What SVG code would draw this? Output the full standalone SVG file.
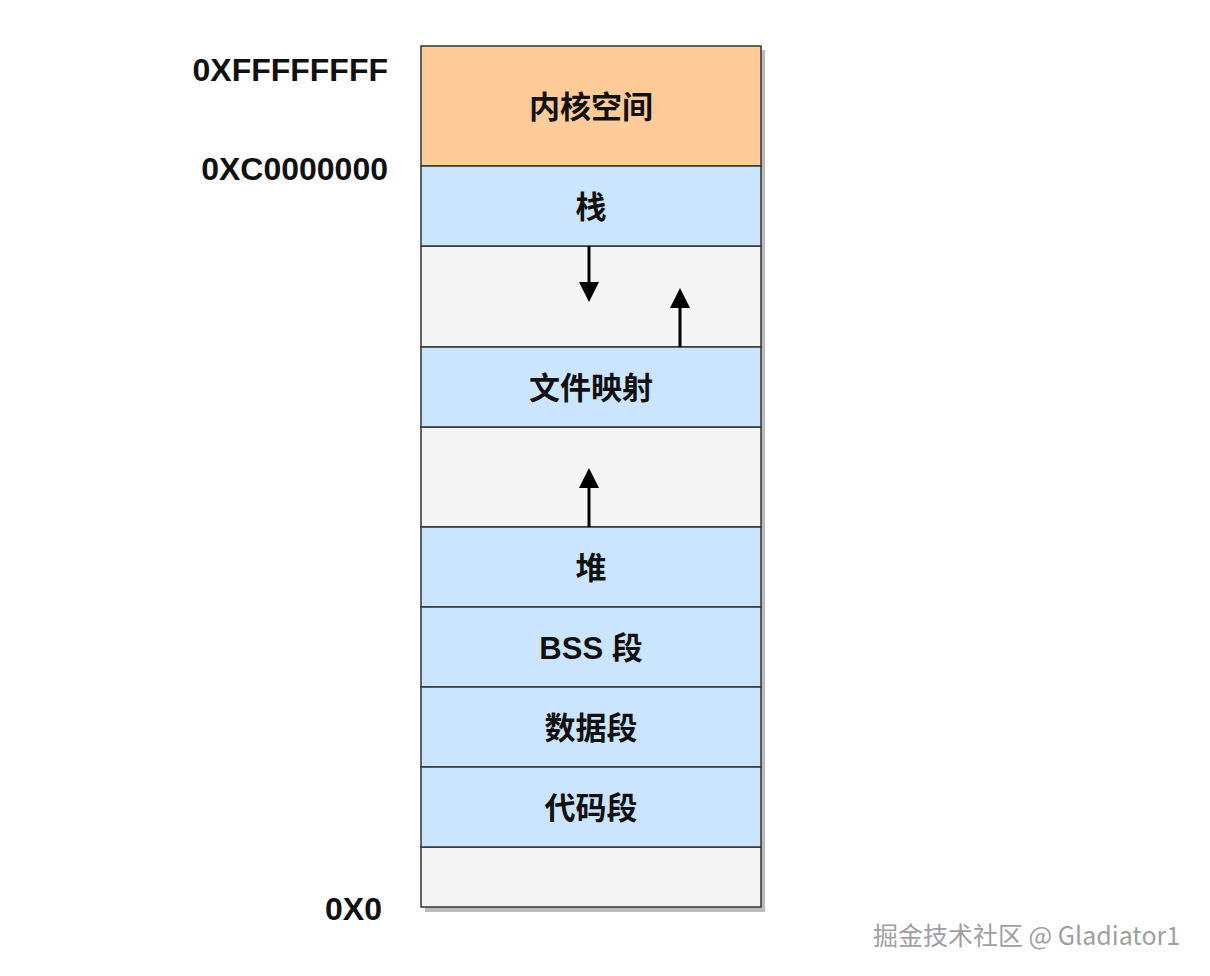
<svg xmlns="http://www.w3.org/2000/svg" width="1210" height="976" viewBox="0 0 1210 976">
<defs>
<style>
.b{stroke:#333;stroke-width:1.5}
.sh{fill:#bbb}
.blue{fill:#cce5ff}
.gray{fill:#f5f5f5}
.t{font-family:"Liberation Sans","Noto Sans CJK SC",sans-serif;font-weight:bold;font-size:31px;fill:#111;text-anchor:middle}
.a{font-family:"Liberation Sans",sans-serif;font-weight:bold;font-size:32px;fill:#111;text-anchor:end}
.w{font-family:"Noto Sans CJK SC",sans-serif;font-size:25px;fill:#888;opacity:0.8}
.c{stroke:#000;stroke-width:3;fill:none}
</style>
<marker id="ah" viewBox="0 0 10 10" refX="2" refY="5" markerWidth="22" markerHeight="20" orient="auto" markerUnits="userSpaceOnUse"><path d="M0,0L10,5L0,10z" fill="#000"/></marker>
</defs>
<rect class="sh" x="425" y="50" width="340" height="862"/>
<g id="n-gray3"><rect class="gray b" x="421" y="847" width="340" height="60"/></g>
<g id="n-gray1"><rect class="gray b" x="421" y="246" width="340" height="101"/></g>
<g id="n-gray2"><rect class="gray b" x="421" y="427" width="340" height="100"/></g>
<g id="n-kernel"><rect class="b" fill="#ffcc99" x="421" y="46" width="340" height="120"/><text class="t" x="591" y="118">内核空间</text></g>
<g id="n-stack"><rect class="blue b" x="421" y="166" width="340" height="80"/><text class="t" x="591" y="218">栈</text></g>
<g id="n-mmap"><rect class="blue b" x="421" y="347" width="340" height="80"/><text class="t" x="591" y="399">文件映射</text></g>
<g id="n-heap"><rect class="blue b" x="421" y="527" width="340" height="80"/><text class="t" x="591" y="579">堆</text></g>
<g id="n-bss"><rect class="blue b" x="421" y="607" width="340" height="80"/><text class="t" x="591" y="659">BSS 段</text></g>
<g id="n-data"><rect class="blue b" x="421" y="687" width="340" height="80"/><text class="t" x="591" y="739">数据段</text></g>
<g id="n-code"><rect class="blue b" x="421" y="767" width="340" height="80"/><text class="t" x="591" y="819">代码段</text></g>
<g id="connectors">
<line class="c" x1="589" y1="246" x2="589" y2="286" marker-end="url(#ah)"/>
<line class="c" x1="680" y1="347" x2="680" y2="304" marker-end="url(#ah)"/>
<line class="c" x1="589" y1="527" x2="589" y2="484" marker-end="url(#ah)"/>
</g>
<text class="a" x="388" y="81">0XFFFFFFFF</text>
<text class="a" x="388" y="180">0XC0000000</text>
<text class="a" x="382" y="920">0X0</text>
<text class="w" x="873" y="945">掘金技术社区 @ Gladiator1</text>
</svg>
